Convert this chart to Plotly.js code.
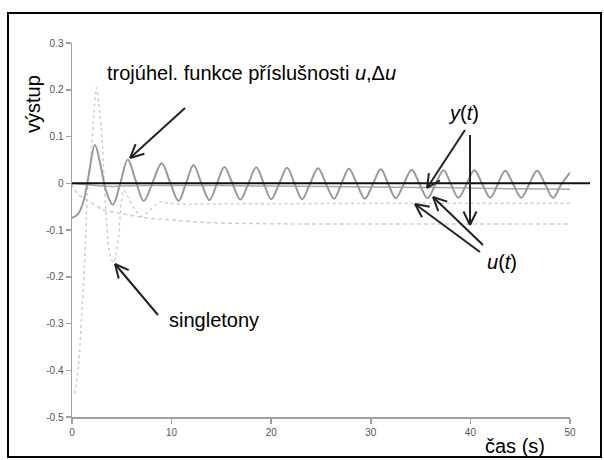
<!DOCTYPE html>
<html>
<head>
<meta charset="utf-8">
<script src="https://cdn.plot.ly/plotly-3.0.1.min.js"></script>
<style>html,body{margin:0;padding:0;background:#fff;}#chart{width:604px;height:460px;}</style>
</head>
<body>
<div id="chart"></div>
<script>
// ---- data ----
// y(t), triangular membership functions (solid, oscillating)
var tTroj = [0,0.6,1.2,1.7,2.3,2.9,3.4,4.1,4.85,5.6,6.4,7.2,8.1,9.0,9.85,10.7,11.45,12.2,13.0,13.8,14.55,15.3,16.1,16.9,17.7,18.5,19.25,20.0,20.8,21.6,22.35,23.1,23.9,24.7,25.5,26.3,27.05,27.8,28.6,29.4,30.2,31.0,31.75,32.5,33.3,34.1,34.9,35.7,36.5,37.3,38.05,38.8,39.6,40.4,41.2,42.0,42.75,43.5,44.3,45.1,45.9,46.7,47.5,48.3,49.1,50];
var yTroj = [-0.074,-0.066,-0.035,0.02,0.082,0.035,-0.015,-0.046,0.0,0.051,0.005,-0.038,0.002,0.043,0.002,-0.038,0.0,0.039,0.0,-0.036,-0.001,0.035,0.0,-0.035,-0.001,0.034,0.0,-0.034,-0.001,0.033,-0.001,-0.034,-0.001,0.032,-0.001,-0.033,-0.001,0.031,-0.001,-0.033,-0.002,0.030,-0.001,-0.032,-0.002,0.029,-0.002,-0.032,-0.002,0.028,-0.002,-0.031,-0.002,0.028,-0.002,-0.031,-0.002,0.027,-0.002,-0.031,-0.002,0.027,-0.002,-0.031,-0.003,0.023];
// y(t), singletons (solid, near zero)
var tSing = [0,1,2,3,4,5,7,10,15,20,25,30,35,40,45,50];
var ySing = [0,-0.002,-0.004,-0.006,-0.007,-0.006,-0.005,-0.005,-0.005,-0.006,-0.007,-0.008,-0.009,-0.010,-0.012,-0.013];
// u(t), triangular (dashed)
var tUTroj = [0,0.3,0.7,1.3,1.8,2.7,3.3,4.8,6,7.8,9.8,12,14.8,18,22,30,40,50];
var uTroj = [0,-0.015,-0.025,-0.034,-0.040,-0.052,-0.058,-0.064,-0.069,-0.075,-0.078,-0.082,-0.085,-0.086,-0.087,-0.087,-0.087,-0.087];
// u(t), singletons (dashed, large transient)
var tUSing = [0.3,0.7,1.0,1.2,1.4,1.6,1.9,2.2,2.45,2.7,3.0,3.2,3.4,3.7,4.0,4.2,4.45,4.7,4.95,5.2,5.8,6.4,7.0,7.8,8.8,9.8,12,15,20,30,40,50];
var uSing = [-0.45,-0.38,-0.27,-0.2,-0.1,0.0,0.06,0.15,0.205,0.17,0.1,0.02,-0.06,-0.14,-0.165,-0.17,-0.15,-0.11,-0.04,-0.015,-0.037,-0.058,-0.071,-0.058,-0.040,-0.043,-0.045,-0.044,-0.044,-0.043,-0.043,-0.043];
// axis ticks
var xTicks = [0,10,20,30,40,50];
var yTicks = [-0.5,-0.4,-0.3,-0.2,-0.1,0,0.1,0.2,0.3];
var yTickText = ['-0.5','-0.4','-0.3','-0.2','-0.1','0','0.1','0.2','0.3'];
var setpoint = 0;

// ---- layout geometry (pixels) ----
var L = 72, R = 570, T = 43, B = 417;
function px(x){ return (x - L) / (R - L); }
function py(y){ return (B - y) / (B - T); }

var traces = [
  {x:tUTroj, y:uTroj, mode:'lines', line:{color:'#cfcfcf', width:1.5, dash:'4px,3px', shape:'spline'}, hoverinfo:'skip'},
  {x:tUSing, y:uSing, mode:'lines', line:{color:'#cfcfcf', width:1.5, dash:'3px,3px', shape:'spline', smoothing:0.6}, hoverinfo:'skip'},
  {x:tSing, y:ySing, mode:'lines', line:{color:'#a8a8a8', width:1.5, shape:'spline'}, hoverinfo:'skip'},
  {x:tTroj, y:yTroj, mode:'lines', line:{color:'#999999', width:2, shape:'spline', smoothing:1}, hoverinfo:'skip'}
];

var FONT = 'Liberation Sans, Arial, Helvetica, sans-serif';
var shapes = [];
// setpoint line (extends past the axis end like the reference)
shapes.push({type:'line', xref:'paper', yref:'y', x0:0, x1:px(590), y0:setpoint, y1:setpoint, line:{color:'#111', width:2}});
// outer frame
shapes.push({type:'rect', xref:'paper', yref:'paper', x0:px(8), x1:px(601), y0:py(13), y1:py(457), line:{color:'#000', width:2}, fillcolor:'rgba(0,0,0,0)'});

// arrows with open V heads (tail -> tip, pixels)
var arrows = [
  [185,108,130,158],
  [158,315,115,264],
  [465,130,427,188],
  [470,135,470,225],
  [480,252,415,204],
  [483,245,433,197]
];
arrows.forEach(function(a){
  var x0=a[0], y0=a[1], x1=a[2], y1=a[3];
  shapes.push({type:'line', xref:'paper', yref:'paper', x0:px(x0), y0:py(y0), x1:px(x1), y1:py(y1), line:{color:'#222', width:2}});
  var ang = Math.atan2(y0-y1, x0-x1), len = 15, spread = 0.45;
  [ang+spread, ang-spread].forEach(function(g){
    shapes.push({type:'line', xref:'paper', yref:'paper', x0:px(x1), y0:py(y1), x1:px(x1+len*Math.cos(g)), y1:py(y1+len*Math.sin(g)), line:{color:'#222', width:2}});
  });
});

function note(text, x, y, xa, extra){
  var o = {text:text, xref:'paper', yref:'paper', x:px(x), y:py(y), xanchor:xa||'left', yanchor:'middle', showarrow:false, font:{family:FONT, size:20, color:'#000'}};
  for (var k in extra) o[k]=extra[k];
  return o;
}
var annotations = [
  note('trojúhel. funkce příslušnosti <i>u</i>,Δ<i>u</i>', 105, 73, 'left'),
  note('singletony', 167, 320, 'left'),
  note('<i>y</i>(<i>t</i>)', 463, 113, 'center'),
  note('<i>u</i>(<i>t</i>)', 502, 262, 'center'),
  note('čas (s)', 515, 446, 'center'),
  note('výstup', 33, 104, 'center', {textangle:-90})
];

var layout = {
  width:604, height:460,
  margin:{l:L, r:604-R, t:T, b:460-B, pad:0},
  paper_bgcolor:'#fff', plot_bgcolor:'#fff',
  showlegend:false,
  xaxis:{range:[0,50], showgrid:false, zeroline:false, showline:true, linecolor:'#a0a0a0', linewidth:1.5,
         ticks:'outside', ticklen:5, tickcolor:'#a0a0a0', tickwidth:1.5, tickvals:xTicks,
         tickfont:{family:FONT, size:10, color:'#555'}},
  yaxis:{range:[-0.5,0.3], showgrid:false, zeroline:false, showline:true, linecolor:'#a0a0a0', linewidth:1.5,
         ticks:'outside', ticklen:5, tickcolor:'#a0a0a0', tickwidth:1.5, tickvals:yTicks, ticktext:yTickText,
         tickfont:{family:FONT, size:10, color:'#555'}},
  shapes:shapes,
  annotations:annotations
};
Plotly.newPlot('chart', traces, layout, {staticPlot:true});
</script>
</body>
</html>
